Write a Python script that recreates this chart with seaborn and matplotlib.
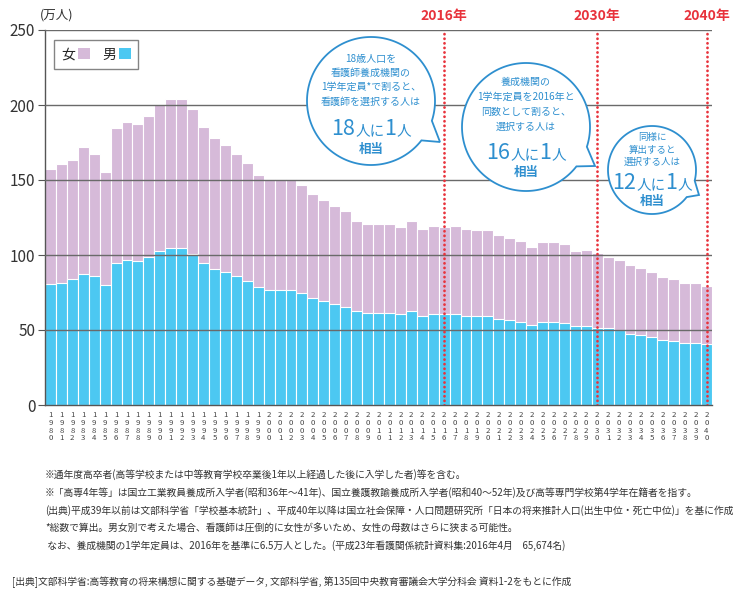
import matplotlib
matplotlib.use('Agg')
import matplotlib.pyplot as plt
import seaborn as sns
import numpy as np
import pandas as pd
from matplotlib.patches import Patch, Polygon

# ---------------- data ----------------
years = list(range(1980, 2041))
male = [80.8, 81.5, 83.7, 87.5, 85.7, 79.9, 94.6, 96.9, 95.8, 98.7,
        102.7, 104.9, 104.9, 100.9, 94.6, 90.8, 88.8, 85.7, 82.6, 78.8,
        76.6, 76.6, 76.6, 74.5, 71.4, 69.4, 67.4, 65.4, 62.7, 61.6,
        61.5, 61.5, 60.6, 62.6, 59.6, 60.7, 60.7, 60.7, 59.6, 59.6,
        59.6, 57.6, 56.7, 55.3, 53.6, 55.3, 55.3, 54.7, 52.7, 52.7,
        51.6, 51.1, 49.8, 47.6, 46.6, 45.5, 43.5, 42.6, 41.5, 41.5, 40.6]
female = [76.5, 79.2, 79.8, 84.3, 81.8, 75.6, 90.1, 91.5, 91.5, 93.7,
          97.7, 99.3, 99.3, 96.4, 90.9, 87.0, 84.7, 81.8, 78.7, 74.7,
          73.8, 73.8, 73.8, 72.2, 69.3, 67.0, 65.0, 64.2, 60.1, 59.0,
          59.2, 59.2, 58.0, 60.2, 58.0, 58.9, 58.1, 58.9, 58.0, 56.9,
          56.9, 56.0, 54.9, 54.3, 52.0, 53.4, 53.4, 52.9, 50.0, 50.9,
          49.5, 47.4, 46.8, 45.9, 44.9, 43.1, 42.0, 41.1, 40.0, 40.0, 38.8]
marker_years = [2016, 2030, 2040]
marker_labels = ['2016年', '2030年', '2040年']
yticks = [0, 50, 100, 150, 200, 250]
legend_labels = ['女', '男']

bubble1_lines = ['18歳人口を', '看護師養成機関の', '1学年定員*で割ると、', '看護師を選択する人は']
bubble1_big = [('18', 15.5), ('人に', 10.5), ('1', 15.5), ('人', 10.5)]
bubble2_lines = ['養成機関の', '1学年定員を2016年と', '同数として割ると、', '選択する人は']
bubble2_big = [('16', 15.5), ('人に', 10.5), ('1', 15.5), ('人', 10.5)]
bubble3_lines = ['同様に', '算出すると', '選択する人は']
bubble3_big = [('12', 15.5), ('人に', 10.5), ('1', 15.5), ('人', 10.5)]
soto = '相当'

notes = [
    '※通年度高卒者(高等学校または中等教育学校卒業後1年以上経過した後に入学した者)等を含む。',
    '※「高専4年等」は国立工業教員養成所入学者(昭和36年〜41年)、国立養護教諭養成所入学者(昭和40〜52年)及び高等専門学校第4学年在籍者を指す。',
    '(出典)平成39年以前は文部科学省「学校基本統計」、平成40年以降は国立社会保障・人口問題研究所「日本の将来推計人口(出生中位・死亡中位)」を基に作成',
    '*総数で算出。男女別で考えた場合、看護師は圧倒的に女性が多いため、女性の母数はさらに狭まる可能性。',
    ' なお、養成機関の1学年定員は、2016年を基準に6.5万人とした。(平成23年看護関係統計資料集:2016年4月　65,674名)',
]
source = '[出典]文部科学省:高等教育の将来構想に関する基礎データ, 文部科学省, 第135回中央教育審議会大学分科会 資料1-2をもとに作成'

# ---------------- style ----------------
sns.set_theme(style='white')
plt.rcParams['font.family'] = ['Noto Sans CJK JP', 'DejaVu Sans']

PURPLE = '#D6BAD9'
BLUE = '#4CC8F2'
RED = '#E8333C'
BCOL = '#2E8FCF'
GRID = '#6a6a6a'

df = pd.DataFrame({'year': [str(y) for y in years], 'male': male, 'female': female})
df['total'] = df['male'] + df['female']

fig = plt.figure(figsize=(7.54, 6.0), dpi=100)
ax = fig.add_axes([45/754, 195/600, 667/754, 375/600])

sns.barplot(data=df, x='year', y='total', color=PURPLE, saturation=1, width=1.0,
            edgecolor='white', linewidth=0.8, ax=ax, zorder=2)
sns.barplot(data=df, x='year', y='male', color=BLUE, saturation=1, width=1.0,
            edgecolor='white', linewidth=0.8, ax=ax, zorder=2)

ax.set_xlim(-0.5, len(years) - 0.5)
ax.set_ylim(0, 250)
ax.set_xlabel('')
ax.set_ylabel('')
ax.set_yticks(yticks)
ax.set_yticklabels([str(v) for v in yticks], fontsize=11, color='#333333')
ax.set_xticks(range(len(years)))
ax.set_xticklabels(['\n'.join(str(y)) for y in years], fontsize=5.6,
                   color='#444444', linespacing=0.95)
ax.tick_params(axis='x', length=3, width=0.6, color='#555555', pad=1.5)
ax.tick_params(axis='y', length=5, width=0.8, color='#555555', pad=2, left=True)

for y in yticks[1:]:
    ax.axhline(y, color=GRID, lw=1.0, zorder=3)

for s in ['top', 'right']:
    ax.spines[s].set_visible(False)
for s in ['left', 'bottom']:
    ax.spines[s].set_color('#555555')
    ax.spines[s].set_linewidth(1.0)

for yr, lab in zip(marker_years, marker_labels):
    idx = years.index(yr)
    ax.axvline(idx, color=RED, lw=2.0, linestyle=(0, (0.05, 1.6)),
               dash_capstyle='round', zorder=4)
    ax.annotate(lab, xy=(idx, 250), xytext=(0, 5), textcoords='offset points',
                ha='center', va='bottom', color=RED, fontsize=10, fontweight='bold',
                annotation_clip=False)

handles = [Patch(facecolor=PURPLE, edgecolor='none'), Patch(facecolor=BLUE, edgecolor='none')]
leg = ax.legend(handles, legend_labels, loc='upper left', bbox_to_anchor=(0.013, 0.973),
                borderaxespad=0, ncol=2, markerfirst=False, frameon=True, fancybox=False,
                edgecolor='#666666', fontsize=10, handlelength=0.85, handleheight=0.85,
                handletextpad=0.2, columnspacing=0.9, borderpad=0.55)
leg.get_frame().set_linewidth(1.0)
leg.set_zorder(5)

# ---------------- overlay (pixel coords) ----------------
oax = fig.add_axes([0, 0, 1, 1], zorder=10)
oax.set_xlim(0, 754)
oax.set_ylim(600, 0)
oax.axis('off')
oax.patch.set_alpha(0)

oax.text(40, 15, '(万人)', fontsize=9, color='#333333', ha='left', va='center')


def bubble(cx, cy, r, a1, a2, tip):
    angs = np.radians(np.linspace(a2, a1 + 360, 200))
    pts = [(cx + r*np.cos(a), cy + r*np.sin(a)) for a in angs]
    pts.append(tip)
    oax.add_patch(Polygon(pts, closed=True, facecolor='white', edgecolor=BCOL, lw=1.3, zorder=2))


renderer = fig.canvas.get_renderer()


def mixed(cx, base, parts):
    ts = [oax.text(0, base, s, fontsize=fs, color=BCOL, ha='left', va='baseline', zorder=3)
          for s, fs in parts]
    ws = [t.get_window_extent(renderer).width for t in ts]
    x = cx - sum(ws)/2
    for t, w in zip(ts, ws):
        t.set_x(x)
        x += w


def bubble_text(cx, ys, lines, base, big, ysoto, fs=7.2):
    for y, l in zip(ys, lines):
        oax.text(cx, y, l, fontsize=fs, color=BCOL, ha='center', va='center', zorder=3)
    mixed(cx, base, big)
    oax.text(cx, ysoto, soto, fontsize=9, color=BCOL, ha='center', va='center',
             fontweight='bold', zorder=3)


bubble(371, 101, 64, 18, 38, (440, 142))
bubble_text(371, [59, 73, 87, 102], bubble1_lines, 135, bubble1_big, 149)

bubble(526, 127, 64, 18, 38, (595, 166))
bubble_text(526, [82, 97, 112, 127], bubble2_lines, 159, bubble2_big, 172)

bubble(652, 170, 44, 14, 38, (699, 195))
bubble_text(652, [137, 150, 162], bubble3_lines, 189, bubble3_big, 201, fs=6.8)

# footnotes: size so that the widest line spans the same width as in the reference
wmax = 0
for n in notes:
    probe = oax.text(0, 0, n, fontsize=10)
    wmax = max(wmax, probe.get_window_extent(renderer).width)
    probe.remove()
nfs = min(7.2, 10 * 692 / wmax)
note_y = [475, 493, 511, 528, 546]
for y, n in zip(note_y, notes):
    oax.text(45, y, n, fontsize=nfs, color='#333333', ha='left', va='center')
oax.text(12, 582, source, fontsize=nfs, color='#333333', ha='left', va='center')

fig.savefig('out.png', dpi=100)
